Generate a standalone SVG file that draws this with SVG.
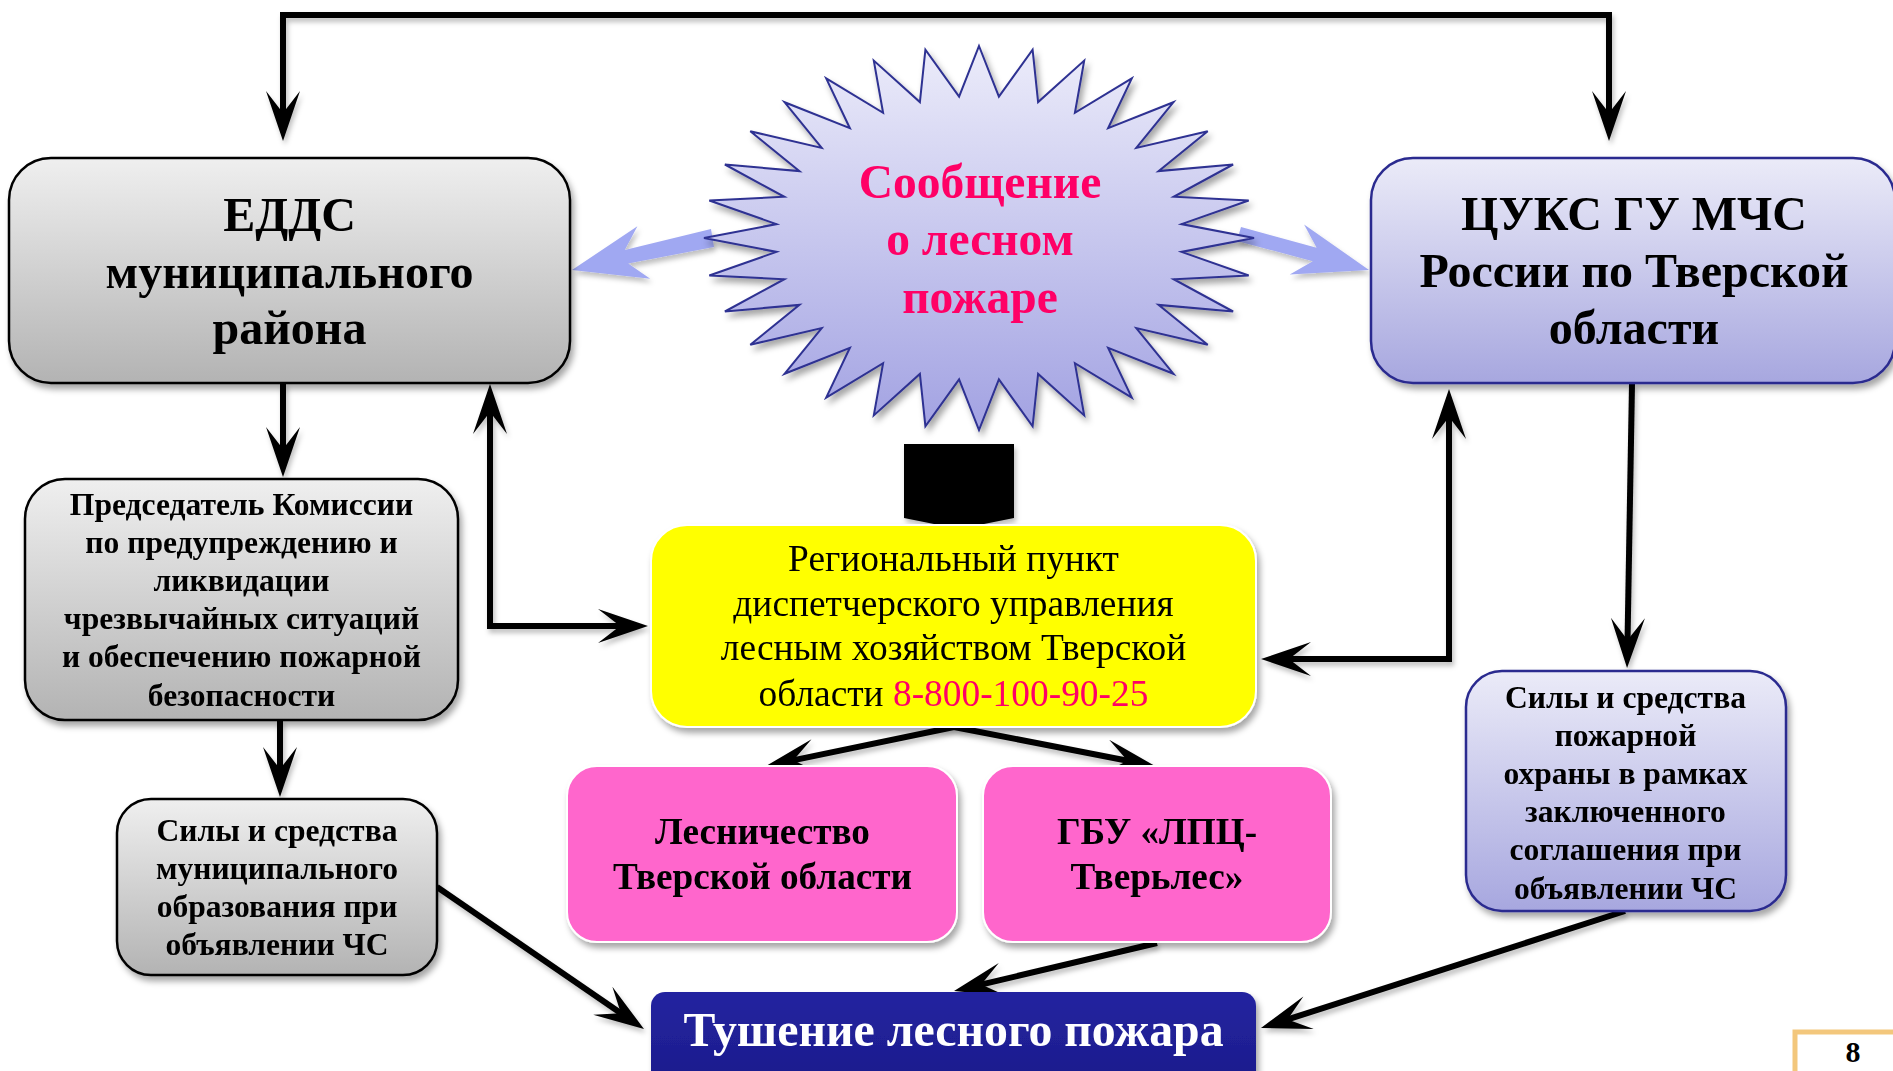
<svg xmlns="http://www.w3.org/2000/svg" width="1893" height="1071" viewBox="0 0 1893 1071">
<defs>
<linearGradient id="gGray" x1="0" y1="0" x2="0" y2="1"><stop offset="0" stop-color="#efefef"/><stop offset="1" stop-color="#b3b3b3"/></linearGradient>
<linearGradient id="gLav" x1="0" y1="0" x2="0" y2="1"><stop offset="0" stop-color="#ebebf8"/><stop offset="1" stop-color="#a7a7df"/></linearGradient>
<linearGradient id="gStar" x1="0" y1="0" x2="0" y2="1"><stop offset="0" stop-color="#ececfa"/><stop offset="1" stop-color="#a2a2e2"/></linearGradient>
<linearGradient id="gNavy" x1="0" y1="0" x2="0" y2="1"><stop offset="0" stop-color="#2424a0"/><stop offset="1" stop-color="#1a1a88"/></linearGradient>
<filter id="sh" x="-10%" y="-10%" width="130%" height="130%"><feDropShadow dx="3" dy="5" stdDeviation="3" flood-color="#000" flood-opacity="0.35"/></filter>
<filter id="shl" x="-10%" y="-10%" width="130%" height="130%"><feDropShadow dx="2" dy="4" stdDeviation="2.5" flood-color="#000" flood-opacity="0.25"/></filter>
<marker id="ah" markerUnits="userSpaceOnUse" markerWidth="60" markerHeight="40" viewBox="-52 -20 60 40" refX="-20" refY="0" orient="auto-start-reverse"><path d="M0,0 L-50,-17 L-28,0 L-50,17 Z" fill="#000"/></marker>
<style>
.t{font-family:"Liberation Serif","Times New Roman",serif;text-anchor:middle;fill:#000}
.b{font-weight:bold}
.big{font-size:48px}
.mid{font-size:31.6px}
.pk{font-size:37.2px}
.yl{font-size:37.4px}
.st{font-size:47.5px;fill:#ff0066}
.c{fill:none;stroke:#000;stroke-width:6;stroke-linejoin:miter;marker-end:url(#ah)}
.red{fill:#ff0066}
</style>
</defs>
<rect width="1893" height="1071" fill="#fff"/>

<g id="connectors" filter="url(#shl)">
<path class="c" d="M283,121 L283,15 L1609,15 L1609,121" style="marker-start:url(#ah)"/>
<path class="c" d="M283,383 L283,457"/>
<path class="c" d="M280,720 L280,777"/>
<path class="c" d="M628,626 L490,626 L490,404" style="marker-start:url(#ah)"/>
<path class="c" d="M1281,659 L1449,659 L1449,409" style="marker-start:url(#ah)"/>
<path class="c" d="M1632,384 L1627.4,648"/>
<path class="c" d="M954,727 L785.6,761.9"/>
<path class="c" d="M954,727 L1135.4,762.2"/>
<path class="c" d="M1157,943 L973.5,986.4"/>
<path class="c" d="M437,887 L627.5,1017.7"/>
<path class="c" d="M1625,911 L1280,1021.9"/>
<polygon points="572,270 637.4,226.3 624.8,249.9 711,229 714,247 628.2,263.5 650.2,278.7" fill="#a0a8f2"/>
<polygon points="1369,270 1304.1,224.4 1316.6,247.8 1241,227 1237,241 1312.8,261.2 1289.75,274.4" fill="#a0a8f2"/>
<polygon points="904,444 1014,444 1014,518 959,529 904,518" fill="#000"/>
</g>

<g id="star" filter="url(#sh)">
<polygon fill="url(#gStar)" stroke="#2e3192" stroke-width="2" points="979,46 998.9,96.7 1032.6,49.7 1038.1,102.1 1084.2,60.6 1074.9,112.8 1131.8,78.4 1108.1,128.2 1173.5,102.2 1136.3,147.9 1207.7,131.3 1158.5,171.1 1233.1,164.5 1173.7,196.8 1248.7,200.5 1181.5,224.1 1254,238 1181.5,251.9 1248.7,275.5 1173.7,279.2 1233.1,311.5 1158.5,304.9 1207.7,344.7 1136.3,328.1 1173.5,373.8 1108.1,347.8 1131.8,397.6 1074.9,363.2 1084.2,415.4 1038.1,373.9 1032.6,426.3 998.9,379.3 979,430 959.1,379.3 925.4,426.3 919.9,373.9 873.8,415.4 883.1,363.2 826.2,397.6 849.9,347.8 784.5,373.8 821.7,328.1 750.3,344.7 799.5,304.9 724.9,311.5 784.3,279.2 709.3,275.5 776.5,251.9 704,238 776.5,224.1 709.3,200.5 784.3,196.8 724.9,164.5 799.5,171.1 750.3,131.3 821.7,147.9 784.5,102.2 849.9,128.2 826.2,78.4 883.1,112.8 873.8,60.6 919.9,102.1 925.4,49.7 959.1,96.7"/>
<text class="t b st" x="980" y="198">Сообщение</text>
<text class="t b st" x="980" y="255">о лесном</text>
<text class="t b st" x="980" y="313">пожаре</text>
</g>

<g id="edds" filter="url(#sh)">
<rect x="9" y="158" width="561" height="225" rx="42" fill="url(#gGray)" stroke="#000" stroke-width="2.5"/>
<text class="t b big" x="289.5" y="231">ЕДДС</text>
<text class="t b big" x="289.5" y="288">муниципального</text>
<text class="t b big" x="289.5" y="344">района</text>
</g>

<g id="cuks" filter="url(#sh)">
<rect x="1371" y="158" width="524" height="225" rx="42" fill="url(#gLav)" stroke="#2b2b8f" stroke-width="2.5"/>
<text class="t b big" x="1634" y="230">ЦУКС ГУ МЧС</text>
<text class="t b big" x="1634" y="287">России по Тверской</text>
<text class="t b big" x="1634" y="344">области</text>
</g>

<g id="chairman" filter="url(#sh)">
<rect x="25" y="479" width="433" height="241" rx="40" fill="url(#gGray)" stroke="#000" stroke-width="2.5"/>
<text class="t b mid" x="241.5" y="515">Председатель Комиссии</text>
<text class="t b mid" x="241.5" y="553">по предупреждению и</text>
<text class="t b mid" x="241.5" y="591">ликвидации</text>
<text class="t b mid" x="241.5" y="629">чрезвычайных ситуаций</text>
<text class="t b mid" x="241.5" y="667">и обеспечению пожарной</text>
<text class="t b mid" x="241.5" y="706">безопасности</text>
</g>

<g id="regional" filter="url(#sh)">
<rect x="651" y="525" width="605" height="202" rx="36" fill="#ffff00" stroke="#fff" stroke-width="2"/>
<text class="t yl" x="953.5" y="571">Региональный пункт</text>
<text class="t yl" x="953.5" y="616">диспетчерского управления</text>
<text class="t yl" x="953.5" y="660">лесным хозяйством Тверской</text>
<text class="t yl" x="953.5" y="706">области <tspan class="red">8-800-100-90-25</tspan></text>
</g>

<g id="municipal" filter="url(#sh)">
<rect x="117" y="799" width="320" height="176" rx="34" fill="url(#gGray)" stroke="#000" stroke-width="2.5"/>
<text class="t b mid" x="277" y="841">Силы и средства</text>
<text class="t b mid" x="277" y="879">муниципального</text>
<text class="t b mid" x="277" y="917">образования при</text>
<text class="t b mid" x="277" y="955">объявлении ЧС</text>
</g>

<g id="lesnichestvo" filter="url(#sh)">
<rect x="567" y="766" width="390" height="176" rx="30" fill="#ff66cc" stroke="#fff" stroke-width="2"/>
<text class="t b pk" x="762.5" y="844">Лесничество</text>
<text class="t b pk" x="762.5" y="889">Тверской области</text>
</g>

<g id="gbu" filter="url(#sh)">
<rect x="983" y="766" width="348" height="176" rx="30" fill="#ff66cc" stroke="#fff" stroke-width="2"/>
<text class="t b pk" x="1157" y="844">ГБУ «ЛПЦ-</text>
<text class="t b pk" x="1157" y="889">Тверьлес»</text>
</g>

<g id="fireforces" filter="url(#sh)">
<rect x="1466" y="671" width="320" height="240" rx="36" fill="url(#gLav)" stroke="#2b2b8f" stroke-width="2.5"/>
<text class="t b mid" x="1625.5" y="708">Силы и средства</text>
<text class="t b mid" x="1625.5" y="746">пожарной</text>
<text class="t b mid" x="1625.5" y="784">охраны в рамках</text>
<text class="t b mid" x="1625.5" y="822">заключенного</text>
<text class="t b mid" x="1625.5" y="860">соглашения при</text>
<text class="t b mid" x="1625.5" y="899">объявлении ЧС</text>
</g>

<g id="tushenie" filter="url(#sh)">
<rect x="651" y="992" width="605" height="110" rx="14" fill="url(#gNavy)"/>
<text class="t b" style="font-size:47.8px;fill:#fff" x="953.5" y="1046">Тушение лесного пожара</text>
</g>

<g id="page">
<rect x="1795" y="1032" width="120" height="60" fill="#fff" stroke="#f3c77c" stroke-width="5"/>
<text class="t b" style="font-size:30px" x="1853" y="1062">8</text>
</g>
</svg>
